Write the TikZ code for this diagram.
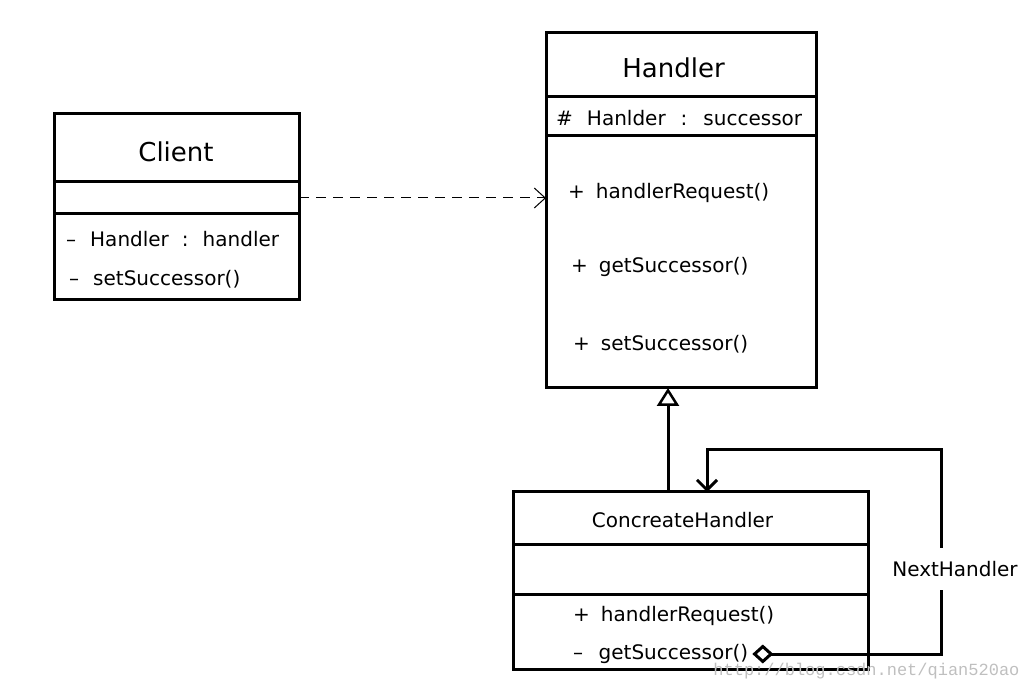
\documentclass[tikz,border=0pt]{standalone}
\usepackage{fontspec}
\setmainfont{DejaVu Sans}
\newfontfamily\wmfont{Liberation Mono}
\usetikzlibrary{positioning,arrows.meta}

\newcommand{\titlesize}{\fontsize{26}{30}\selectfont}
\newcommand{\membersize}{\fontsize{20}{24}\selectfont}

\tikzset{
	box/.style={draw, line width=3pt, outer sep=0pt, inner sep=0pt, minimum width=#1},
	title/.style={inner sep=0pt, font=\titlesize},
	member/.style={anchor=west, inner sep=0pt, font=\membersize},
	link/.style={line width=3pt},
}

\begin{document}
\begin{tikzpicture}[x=1pt, y=-1pt]
	\useasboundingbox (0,0) rectangle (1034,692);
	% Client
	\node[box=245pt, minimum height=68pt] (cl-title) at (176.5,148) {};
	\node[box=245pt, minimum height=32pt, below=0pt of cl-title] (cl-attr) {};
	\node[box=245pt, minimum height=86pt, below=0pt of cl-attr] (cl-ops) {};
	\node[title] (cl-name) at (176,152) {Client};
	\node[member] (cl-handler) at (66,239) {\textendash\hspace{14pt}Handler\hspace{13pt}:\hspace{14pt}handler};
	\node[member] (cl-set) at (69,279) {\textendash\hspace{14pt}setSuccessor()};
	% Handler
	\node[box=270pt, minimum height=64pt] (h-title) at (681,65) {};
	\node[box=270pt, minimum height=39pt, below=0pt of h-title] (h-attr) {};
	\node[box=270pt, minimum height=252pt, below=0pt of h-attr] (h-ops) {};
	\node[title] (h-name) at (673.5,68) {Handler};
	\node[member] (h-succ) at (556,118) {\#\hspace{14pt}Hanlder\hspace{15pt}:\hspace{16pt}successor};
	\node[member] (h-req) at (568,193) {+\hspace{11pt}handlerRequest()};
	\node[member] (h-get) at (571,267) {+\hspace{11pt}getSuccessor()};
	\node[member] (h-set) at (573,344) {+\hspace{11pt}setSuccessor()};
	% ConcreateHandler
	\node[box=355pt, minimum height=52pt] (ch-title) at (690.5,518) {};
	\node[box=355pt, minimum height=50pt, below=0pt of ch-title] (ch-attr) {};
	\node[box=355pt, minimum height=75pt, below=0pt of ch-attr] (ch-ops) {};
	\node[member, anchor=center] (ch-name) at (682.5,520) {ConcreateHandler};
	\node[member] (ch-req) at (573,616) {+\hspace{11pt}handlerRequest()};
	\node[member] (ch-get) at (573,654) {\textendash\hspace{15.5pt}getSuccessor()};
	% Links
	\draw[line width=1pt, dash pattern=on 10pt off 7pt, -{Straight Barb[length=11pt, width=20pt, line width=1pt]}]
		(cl-attr.east) -- (cl-attr.east -| h-ops.west);
	\draw[link, -{Triangle[open, length=18pt, width=22pt, line width=2.5pt]}]
		([xshift=-22.5pt]ch-title.north) -- ([xshift=-22.5pt]ch-title.north |- h-ops.south);
	\coordinate[right=4pt of ch-get] (nh-from);
	\coordinate (nh-turn) at (941,450);
	\coordinate (nh-to) at (707,492);
	\draw[link, {Diamond[open, length=21pt, width=19pt, line width=3pt]}-{Straight Barb[length=10pt, width=20pt, line width=3pt]}]
		(nh-from) -| (nh-turn) -| (nh-to);
	\node[fill=white, inner xsep=2pt, inner ysep=13.5pt, font=\membersize] (nh-label) at (955,569) {NextHandler};
	% Watermark
	\node[anchor=east, text=black!25, font=\wmfont\fontsize{17}{17}\selectfont] (wm) at (1023,671) {http://blog.csdn.net/qian520ao};
\end{tikzpicture}
\end{document}
